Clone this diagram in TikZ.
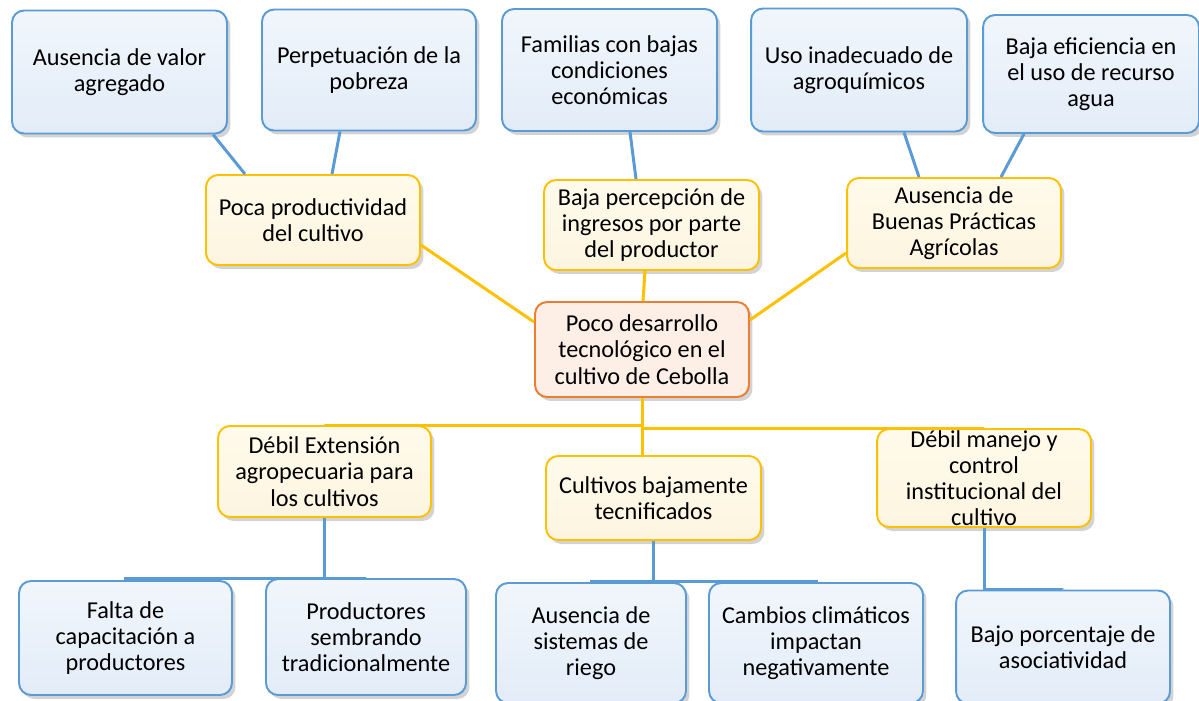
\documentclass[tikz,border=0pt]{standalone}
\usepackage{fontspec}
\setmainfont{Carlito}
\usepackage{xcolor}
\usepackage{tikz}
\usetikzlibrary{calc,shadows}
\definecolor{skyline}{RGB}{91,155,213}
\definecolor{skytop}{RGB}{241,246,252}
\definecolor{skybot}{RGB}{226,236,248}
\definecolor{gold}{RGB}{255,192,0}
\definecolor{creamtop}{RGB}{255,250,235}
\definecolor{creambot}{RGB}{253,245,224}
\definecolor{rust}{RGB}{237,125,49}
\definecolor{peach}{RGB}{253,238,230}
\tikzset{
  box/.style={rounded corners=0.24cm,line width=1.1pt,align=center,
    inner sep=0pt,font=\fontsize{13.8}{14.9}\selectfont,
    drop shadow={opacity=0.35,shadow xshift=0.07cm,shadow yshift=-0.08cm}},
  skybox/.style={box,draw=skyline,top color=skytop,bottom color=skybot},
  goldbox/.style={box,draw=gold,top color=creamtop,bottom color=creambot},
  corebox/.style={box,draw=rust,fill=peach},
  skywire/.style={skyline,line width=1.7pt},
  goldwire/.style={gold,line width=1.7pt}
}
\begin{document}
\begin{tikzpicture}[x=0.02cm,y=-0.02cm]
  \useasboundingbox (0,0) rectangle (1199,700);
  % efectos
  \node[skybox,minimum width=4.3cm,minimum height=2.46cm] (e1) at (119.5,72) {Ausencia de valor\\agregado};
  \node[skybox,minimum width=4.28cm,minimum height=2.42cm] (e2) at (369,70) {Perpetuación de la\\pobreza};
  \node[skybox,minimum width=4.3cm,minimum height=2.44cm] (e3) at (609.5,70) {Familias con bajas\\condiciones\\económicas};
  \node[skybox,minimum width=4.32cm,minimum height=2.46cm] (e4) at (859,70) {Uso inadecuado de\\agroquímicos};
  \node[skybox,minimum width=4.32cm,minimum height=2.36cm] (e5) at (1091,74) {Baja eficiencia en\\el uso de recurso\\agua};
  \node[goldbox,minimum width=4.28cm,minimum height=1.8cm] (m1) at (313,220) {Poca productividad\\del cultivo};
  \node[goldbox,minimum width=4.3cm,minimum height=1.8cm] (m2) at (651.5,225) {Baja percepción de\\ingresos por parte\\del productor};
  \node[goldbox,minimum width=4.28cm,minimum height=1.8cm] (m3) at (954,223) {Ausencia de\\Buenas Prácticas\\Agrícolas};
  % problema central
  \node[corebox,minimum width=4.28cm,minimum height=1.9cm] (core) at (642,349.5) {Poco desarrollo\\tecnológico en el\\cultivo de Cebolla};
  % causas
  \node[goldbox,minimum width=4.26cm,minimum height=1.82cm] (c1) at (324.5,471.5) {Débil Extensión\\agropecuaria para\\los cultivos};
  \node[goldbox,minimum width=4.3cm,minimum height=1.68cm] (c2) at (653.5,498) {Cultivos bajamente\\tecnificados};
  \node[goldbox,minimum width=4.28cm,minimum height=1.96cm] (c3) at (984,478) {Débil manejo y\\control\\institucional del\\cultivo};
  \node[skybox,minimum width=4.26cm,minimum height=2.28cm] (b1) at (125.5,638) {Falta de\\capacitación a\\productores};
  \node[skybox,minimum width=4cm,minimum height=2.32cm] (b2) at (366,637) {Productores\\sembrando\\tradicionalmente};
  \node[skybox,minimum width=3.8cm,minimum height=2.4cm] (b3) at (591,643) {Ausencia de\\sistemas de\\riego};
  \node[skybox,minimum width=4.28cm,minimum height=2.4cm] (b4) at (816,643) {Cambios climáticos\\impactan\\negativamente};
  \node[skybox,minimum width=4.28cm,minimum height=2.26cm] (b5) at (1063,647) {Bajo porcentaje de\\asociatividad};

  \draw[skywire] ($(e1.south)+(93.5,0)$) -- ($(m1.north)+(-68,0)$);
  \draw[skywire] ($(e2.south)+(-29,0)$) -- ($(m1.north)+(19,0)$);
  \draw[skywire] ($(e3.south)+(20.5,0)$) -- ($(m2.north)+(-15.5,0)$);
  \draw[skywire] ($(e4.south)+(45,0)$) -- ($(m3.north)+(-35,0)$);
  \draw[skywire] ($(e5.south)+(-67,0)$) -- ($(m3.north)+(47,0)$);
  \draw[goldwire] ($(m1.east)+(0,25)$) -- ($(core.west)+(0,-27.5)$);
  \draw[goldwire] ($(m2.south)+(-6.5,0)$) -- ($(core.north)+(1,0)$);
  \draw[goldwire] ($(m3.west)+(0,30)$) -- ($(core.east)+(0,-29.5)$);
  \draw[goldwire] (core.south) -- (core.south |- c2.north);
  \draw[goldwire] (core.south) -- ++(0,28) -| (c1.north);
  \draw[goldwire] (core.south) -- ++(0,31) -| (c3.north);
  \draw[skywire] (c1.south) -- ++(0,61) -| (b1.north);
  \draw[skywire] (c1.south) -- ++(0,61) -| (b2.north);
  \draw[skywire] (c2.south) -- ++(0,41) -| (b3.north);
  \draw[skywire] (c2.south) -- ++(0,41) -| (b4.north);
  \draw[skywire] (c3.south) -- ++(0,62) -| (b5.north);
\end{tikzpicture}
\end{document}
